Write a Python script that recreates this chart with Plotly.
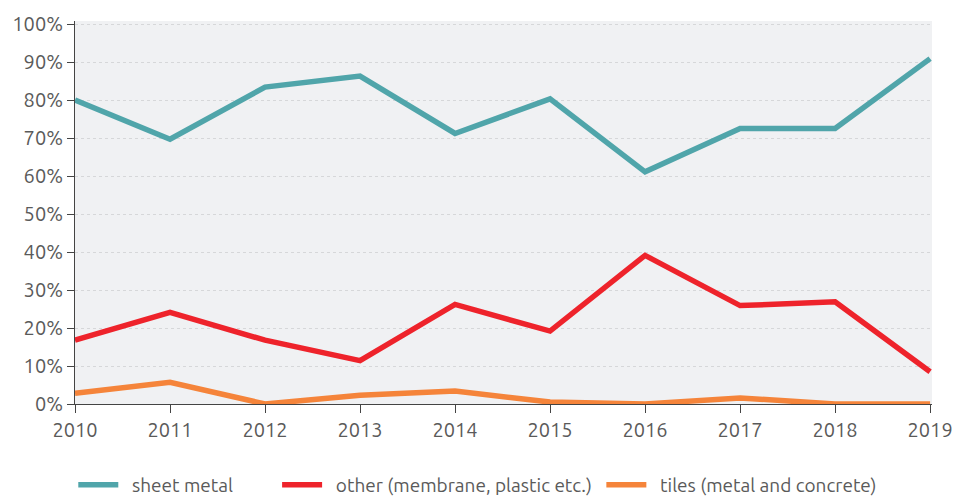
import plotly.graph_objects as go

years = [2010, 2011, 2012, 2013, 2014, 2015, 2016, 2017, 2018, 2019]
sheet_metal = [80.0, 69.7, 83.4, 86.3, 71.2, 80.3, 61.1, 72.5, 72.5, 90.9]
other = [16.8, 24.1, 16.8, 11.4, 26.2, 19.2, 39.1, 25.9, 26.9, 8.5]
tiles = [2.8, 5.7, 0.0, 2.3, 3.4, 0.5, 0.0, 1.6, 0.0, 0.0]

series_names = ["sheet metal", "other (membrane, plastic etc.)", "tiles (metal and concrete)"]
series_colors = ["#50a5aa", "#ee232b", "#f5843a"]
# spacing before / after each legend label
legend_lead = 2
legend_trail = [9, 1, 0]
y_ticks = list(range(0, 101, 10))
y_tick_labels = [f"{v}%" for v in y_ticks]

fig = go.Figure()
for name, vals, col, pad in zip(series_names, [sheet_metal, other, tiles], series_colors, legend_trail):
    fig.add_trace(go.Scatter(
        x=years, y=vals, name="\u00a0" * legend_lead + name + "\u00a0" * pad, mode="lines",
        line=dict(color=col, width=5.5),
    ))

family = "Ubuntu, 'Open Sans', 'DejaVu Sans', sans-serif"
axis_font = dict(family=family, size=20, color="#5a5a5a")

fig.update_layout(
    width=965, height=501,
    margin=dict(l=72, r=32, t=15, b=97),
    paper_bgcolor="white",
    plot_bgcolor="#f0f1f3",
    font=axis_font,
    showlegend=True,
    legend=dict(
        orientation="h", x=0.47, xanchor="center",
        yref="container", y=0.032, yanchor="middle",
        font=dict(family=family, size=19, color="#5a5a5a"),
        itemwidth=40,
    ),
    xaxis=dict(
        range=[2010, 2019.02],
        tickvals=years, ticktext=[str(y) for y in years],
        showgrid=False, zeroline=False,
        showline=True, linecolor="#444", linewidth=1,
        ticks="outside", ticklen=8, tickcolor="#444",
        tickfont=axis_font,
    ),
    yaxis=dict(
        range=[0, 100.8],
        tickvals=y_ticks, ticktext=y_tick_labels,
        showgrid=True, gridcolor="#d6d7d9", griddash="dot", gridwidth=1,
        zeroline=False,
        showline=True, linecolor="#444", linewidth=1,
        ticks="outside", ticklen=7, tickcolor="#444",
        tickfont=axis_font,
    ),
)

fig.write_html("out.html")
